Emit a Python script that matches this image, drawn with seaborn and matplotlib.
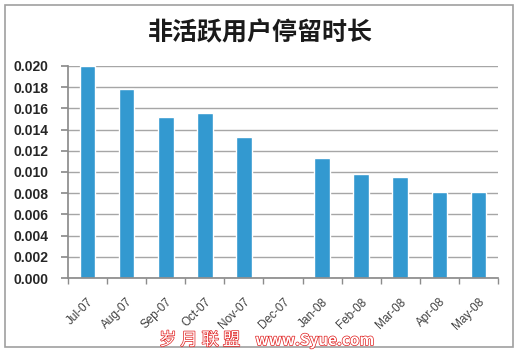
import pandas as pd
import seaborn as sns
import matplotlib.pyplot as plt
import matplotlib.patheffects as pe
from matplotlib.patches import Rectangle

# data
months = ['Jul-07', 'Aug-07', 'Sep-07', 'Oct-07', 'Nov-07', 'Dec-07',
          'Jan-08', 'Feb-08', 'Mar-08', 'Apr-08', 'May-08']
values = [0.0200, 0.0178, 0.0152, 0.0156, 0.0133, 0.0,
          0.0113, 0.0098, 0.0095, 0.0081, 0.0081]
y_ticks = [0.000, 0.002, 0.004, 0.006, 0.008, 0.010,
           0.012, 0.014, 0.016, 0.018, 0.020]

title_text = '非活跃用户停留时长'
watermark_cn = '岁 月 联 盟'
watermark_url = 'www.Syue.com'


def main():
    sns.set_theme(style='white')
    plt.rcParams['font.family'] = ['Noto Sans CJK SC', 'DejaVu Sans']

    df = pd.DataFrame({'month': months, 'value': values})

    fig = plt.figure(figsize=(5.2, 3.55), dpi=100)
    ax = fig.add_axes([0.1308, 0.2169, 0.8269, 0.5972])

    sns.barplot(data=df, x='month', y='value', color='#3399d0',
                width=0.4, saturation=1, ax=ax)

    ax.set_ylim(0, 0.020)
    ax.set_xlim(-0.5, len(months) - 0.5)
    ax.set_yticks(y_ticks)
    ax.set_yticklabels([f'{t:.3f}' for t in y_ticks], fontsize=10,
                       fontweight='bold',
                       family=['Liberation Sans Narrow', 'Liberation Sans'])
    ax.yaxis.grid(True, color='#a6a6a6', linewidth=1)
    ax.set_axisbelow(True)

    ax.set_xticks(range(len(months)))
    ax.set_xticklabels(months, rotation=45, ha='right', rotation_mode='anchor',
                       fontsize=8.5, color='#404040', family='Liberation Sans')
    ax.set_xticks([i - 0.5 for i in range(len(months) + 1)], minor=True)
    ax.tick_params(axis='x', which='major', length=0, pad=13)
    ax.tick_params(axis='x', which='minor', length=4, color='#8c8c8c',
                   direction='out', bottom=True)
    ax.tick_params(axis='y', length=5, color='#8c8c8c', direction='out',
                   left=True, pad=9)

    for side in ['top', 'right']:
        ax.spines[side].set_visible(False)
    ax.spines['left'].set_color('#8c8c8c')
    ax.spines['bottom'].set_color('#8c8c8c')

    ax.set_xlabel('')
    ax.set_ylabel('')

    fig.text(0.5, 0.905, title_text, ha='center', va='center',
             fontsize=18, fontweight='bold', color='#1a1a1a')

    # grey outer frame
    fig.patches.append(Rectangle((0.01, 0.022), 0.976, 0.963,
                                 transform=fig.transFigure, fill=False,
                                 edgecolor='#a0a0a0', linewidth=1.2))

    # red watermark at the bottom
    outline = [pe.withStroke(linewidth=1.0, foreground='#e02020')]
    fig.text(0.384, 0.042, watermark_cn, ha='center', va='center',
             fontsize=12.5, color='white', path_effects=outline)
    fig.text(0.605, 0.042, watermark_url, ha='center', va='center',
             fontsize=11, color='white', fontweight='bold', path_effects=outline)

    fig.savefig('out.png', dpi=100)


if __name__ == '__main__':
    main()
